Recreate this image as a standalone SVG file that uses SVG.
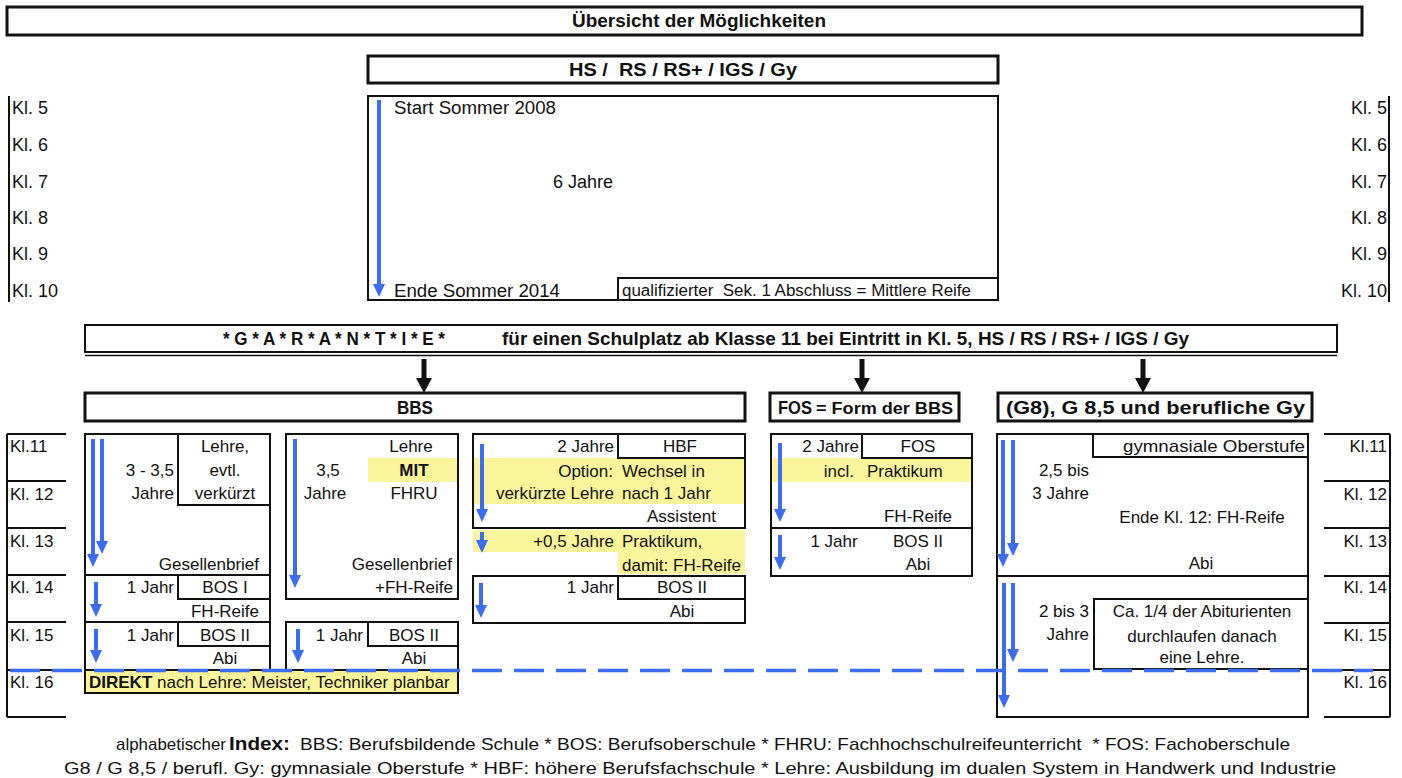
<svg xmlns="http://www.w3.org/2000/svg" width="1402" height="778" viewBox="0 0 1402 778">
<style>
.t{font-family:"Liberation Sans",Arial,sans-serif;font-size:17px;fill:#111}
.t18{font-size:18px}
.h{font-size:19px;font-weight:bold}
.b{font-weight:bold}
.e{text-anchor:end}
.m{text-anchor:middle}
.box{fill:none;stroke:#111;stroke-width:2}
.hbox{fill:#fff;stroke:#111;stroke-width:3}
.y{fill:#faf49a;stroke:none}
.kl{stroke:#111;stroke-width:2;fill:none}
.ba{stroke:#3a6cf4;stroke-width:4;fill:none;marker-end:url(#bh)}
.ka{stroke:#111;stroke-width:5;fill:none;marker-end:url(#kh)}
.dash{stroke:#3a6cf4;stroke-width:3.5;stroke-dasharray:30 12;fill:none}
</style>
<defs>
<marker id="bh" markerUnits="userSpaceOnUse" markerWidth="14" markerHeight="14" refX="0" refY="7" orient="auto" viewBox="0 0 14 14"><path d="M0,1 L13,7 L0,13 z" fill="#3a6cf4"/></marker>
<marker id="kh" markerUnits="userSpaceOnUse" markerWidth="16" markerHeight="18" refX="0" refY="9" orient="auto" viewBox="0 0 16 18"><path d="M0,1 L15,9 L0,17 z" fill="#111"/></marker>
</defs>
<rect width="1402" height="778" fill="#fff"/>

<g id="title">
<rect class="hbox" x="7" y="7" width="1355" height="28"/>
<text class="t h" x="572" y="27" textLength="254" lengthAdjust="spacingAndGlyphs">Übersicht der Möglichkeiten</text>
</g>

<g id="hs-header">
<rect class="hbox" x="368" y="56" width="630" height="27"/>
<text class="t h" x="569" y="76" xml:space="preserve" textLength="228" lengthAdjust="spacingAndGlyphs">HS /  RS / RS+ / IGS / Gy</text>
</g>

<g id="sek1">
<rect class="box" x="368" y="96" width="630" height="204"/>
<text class="t t18" x="394" y="114" textLength="162" lengthAdjust="spacingAndGlyphs">Start Sommer 2008</text>
<text class="t t18 m" x="583" y="188">6 Jahre</text>
<text class="t t18" x="394" y="297" textLength="166" lengthAdjust="spacingAndGlyphs">Ende Sommer 2014</text>
<rect class="box" x="618" y="278" width="380" height="22"/>
<text class="t" x="622" y="296" style="font-size:16px" xml:space="preserve" textLength="349" lengthAdjust="spacingAndGlyphs">qualifizierter  Sek. 1 Abschluss = Mittlere Reife</text>
</g>

<g id="kl-top-left">
<line class="kl" x1="9" y1="96" x2="9" y2="302"/>
<text class="t t18" x="12" y="114">Kl. 5</text>
<text class="t t18" x="12" y="151">Kl. 6</text>
<text class="t t18" x="12" y="188">Kl. 7</text>
<text class="t t18" x="12" y="224">Kl. 8</text>
<text class="t t18" x="12" y="260">Kl. 9</text>
<text class="t t18" x="12" y="297">Kl. 10</text>
</g>

<g id="kl-top-right">
<line class="kl" x1="1389" y1="96" x2="1389" y2="302"/>
<text class="t t18 e" x="1387" y="114">Kl. 5</text>
<text class="t t18 e" x="1387" y="151">Kl. 6</text>
<text class="t t18 e" x="1387" y="188">Kl. 7</text>
<text class="t t18 e" x="1387" y="224">Kl. 8</text>
<text class="t t18 e" x="1387" y="260">Kl. 9</text>
<text class="t t18 e" x="1387" y="297">Kl. 10</text>
</g>

<g id="garantie">
<rect x="85" y="325" width="1252" height="27" fill="#fff" stroke="#111" stroke-width="2"/>
<line x1="85" y1="355.5" x2="1337" y2="355.5" stroke="#111" stroke-width="1.5"/>
<text class="t h" x="223" y="345" textLength="222" lengthAdjust="spacingAndGlyphs">* G * A * R * A * N * T * I * E *</text>
<text class="t h" x="502" y="345" textLength="687" lengthAdjust="spacingAndGlyphs">für einen Schulplatz ab Klasse 11 bei Eintritt in Kl. 5, HS / RS / RS+ / IGS / Gy</text>
</g>

<g id="bbs-header">
<rect class="hbox" x="85" y="393" width="660" height="28"/>
<text class="t h" x="397" y="414" textLength="36" lengthAdjust="spacingAndGlyphs">BBS</text>
</g>

<g id="fos-header">
<rect class="hbox" x="770" y="393" width="189" height="28"/>
<text class="t h" x="778" y="414" textLength="34" lengthAdjust="spacingAndGlyphs">FOS</text>
<text class="t b" x="816" y="414" style="font-size:16px" textLength="137" lengthAdjust="spacingAndGlyphs">= Form der BBS</text>
</g>

<g id="gy-header">
<rect class="hbox" x="998" y="393" width="314" height="28"/>
<text class="t h" x="1006" y="414" textLength="299" lengthAdjust="spacingAndGlyphs">(G8), G 8,5 und berufliche Gy</text>
</g>

<g id="kl-bottom-left">
<path class="kl" d="M7,434 V717 M7,434 H66 M7,481 H66 M7,528 H66 M7,575 H66 M7,622 H66 M7,670 H66 M7,717 H66"/>
<text class="t" x="10" y="452">Kl.11</text>
<text class="t" x="10" y="500">Kl. 12</text>
<text class="t" x="10" y="547">Kl. 13</text>
<text class="t" x="10" y="593">Kl. 14</text>
<text class="t" x="10" y="641">Kl. 15</text>
<text class="t" x="10" y="688">Kl. 16</text>
</g>

<g id="kl-bottom-right">
<path class="kl" d="M1390,434 V717 M1324,434 H1390 M1324,481 H1390 M1324,528 H1390 M1324,576 H1390 M1324,623 H1390 M1324,670 H1390 M1324,717 H1390"/>
<text class="t e" x="1387" y="452">Kl.11</text>
<text class="t e" x="1387" y="500">Kl. 12</text>
<text class="t e" x="1387" y="547">Kl. 13</text>
<text class="t e" x="1387" y="593">Kl. 14</text>
<text class="t e" x="1387" y="641">Kl. 15</text>
<text class="t e" x="1387" y="688">Kl. 16</text>
</g>

<g id="lehre">
<rect class="box" x="85" y="434" width="185" height="141"/>
<rect class="box" x="178" y="434" width="92" height="71"/>
<text class="t m" x="225" y="452">Lehre,</text>
<text class="t m" x="225" y="476">evtl.</text>
<text class="t m" x="225" y="499">verkürzt</text>
<text class="t e" x="174" y="476">3 - 3,5</text>
<text class="t e" x="174" y="499">Jahre</text>
<text class="t e" x="259" y="570">Gesellenbrief</text>
</g>

<g id="bos1">
<rect class="box" x="85" y="575" width="185" height="47"/>
<rect class="box" x="178" y="575" width="92" height="24"/>
<text class="t e" x="174" y="593">1 Jahr</text>
<text class="t m" x="225" y="593">BOS I</text>
<text class="t m" x="225" y="617">FH-Reife</text>
</g>

<g id="bos2-a">
<rect class="box" x="85" y="622" width="185" height="48"/>
<rect class="box" x="178" y="622" width="92" height="24"/>
<text class="t e" x="174" y="641">1 Jahr</text>
<text class="t m" x="225" y="641">BOS II</text>
<text class="t m" x="225" y="664">Abi</text>
</g>

<g id="direkt">
<rect x="85" y="670" width="373" height="23" fill="#faf49a" stroke="#111" stroke-width="2"/>
<text class="t" x="89" y="688"><tspan class="b">DIREKT</tspan> nach Lehre: Meister, Techniker planbar</text>
</g>

<g id="lehre-fhru">
<rect class="y" x="368" y="458" width="89" height="24"/>
<rect class="box" x="286" y="434" width="172" height="165"/>
<text class="t m" x="411" y="452">Lehre</text>
<text class="t b m" x="414" y="476">MIT</text>
<text class="t m" x="414" y="499">FHRU</text>
<text class="t m" x="328" y="476">3,5</text>
<text class="t m" x="325" y="499">Jahre</text>
<text class="t e" x="452" y="570">Gesellenbrief</text>
<text class="t e" x="453" y="593">+FH-Reife</text>
</g>

<g id="bos2-b">
<rect class="box" x="286" y="622" width="172" height="48"/>
<rect class="box" x="368" y="622" width="90" height="24"/>
<text class="t e" x="363" y="641">1 Jahr</text>
<text class="t m" x="414" y="641">BOS II</text>
<text class="t m" x="414" y="664">Abi</text>
</g>

<g id="hbf">
<rect class="y" x="473" y="458" width="272" height="46"/>
<rect class="box" x="473" y="434" width="272" height="94"/>
<rect class="box" x="618" y="434" width="127" height="24"/>
<text class="t e" x="614" y="452">2 Jahre</text>
<text class="t m" x="680" y="452">HBF</text>
<text class="t e" x="613" y="477">Option:</text>
<text class="t" x="622" y="477">Wechsel in</text>
<text class="t e" x="614" y="499">verkürzte Lehre</text>
<text class="t" x="622" y="499">nach 1 Jahr</text>
<text class="t e" x="716" y="522">Assistent</text>
</g>

<g id="praktikum">
<path class="y" d="M473,530 H745 V574 H618 V552 H473 z"/>
<text class="t e" x="614" y="547">+0,5 Jahre</text>
<text class="t" x="622" y="547">Praktikum,</text>
<text class="t" x="622" y="571">damit: FH-Reife</text>
</g>

<g id="bos2-c">
<rect class="box" x="473" y="576" width="272" height="47"/>
<rect class="box" x="618" y="576" width="127" height="23"/>
<text class="t e" x="614" y="593">1 Jahr</text>
<text class="t m" x="682" y="593">BOS II</text>
<text class="t m" x="682" y="617">Abi</text>
</g>

<g id="fos">
<rect class="y" x="771" y="458" width="201" height="24"/>
<rect class="box" x="771" y="434" width="201" height="94"/>
<rect class="box" x="862" y="434" width="110" height="24"/>
<text class="t e" x="859" y="452">2 Jahre</text>
<text class="t m" x="918" y="452">FOS</text>
<text class="t e" x="854" y="477">incl.</text>
<text class="t" x="867" y="477">Praktikum</text>
<text class="t m" x="918" y="522">FH-Reife</text>
</g>

<g id="fos-bos2">
<rect class="box" x="771" y="528" width="201" height="48"/>
<text class="t m" x="834" y="547">1 Jahr</text>
<text class="t m" x="918" y="547">BOS II</text>
<text class="t m" x="918" y="570">Abi</text>
</g>

<g id="gy-oberstufe">
<rect class="box" x="997" y="434" width="311" height="142"/>
<rect class="box" x="1093" y="434" width="215" height="23"/>
<text class="t" x="1123" y="452" textLength="182" lengthAdjust="spacingAndGlyphs">gymnasiale Oberstufe</text>
<text class="t e" x="1089" y="476">2,5 bis</text>
<text class="t e" x="1089" y="499">3 Jahre</text>
<text class="t m" x="1202" y="523">Ende Kl. 12: FH-Reife</text>
<text class="t m" x="1201" y="569">Abi</text>
</g>

<g id="gy-lehre">
<rect class="box" x="997" y="576" width="311" height="141"/>
<rect class="box" x="1094" y="599" width="214" height="70"/>
<text class="t e" x="1089" y="617">2 bis 3</text>
<text class="t e" x="1089" y="640">Jahre</text>
<text class="t m" x="1202" y="617">Ca. 1/4 der Abiturienten</text>
<text class="t m" x="1202" y="642">durchlaufen danach</text>
<text class="t m" x="1202" y="663">eine Lehre.</text>
</g>

<g id="connectors">
<line class="ka" x1="424" y1="359" x2="424" y2="378"/>
<line class="ka" x1="862" y1="359" x2="862" y2="378"/>
<line class="ka" x1="1143" y1="359" x2="1143" y2="378"/>
<line class="ba" x1="379" y1="100" x2="379" y2="284"/>
<line class="ba" x1="93" y1="439" x2="93" y2="554"/>
<line class="ba" x1="102" y1="439" x2="102" y2="541"/>
<line class="ba" x1="96" y1="582" x2="96" y2="604"/>
<line class="ba" x1="96" y1="629" x2="96" y2="650"/>
<line class="ba" x1="295" y1="439" x2="295" y2="575"/>
<line class="ba" x1="298" y1="629" x2="298" y2="650"/>
<line class="ba" x1="482" y1="444" x2="482" y2="509"/>
<line class="ba" x1="482" y1="532" x2="482" y2="540"/>
<line class="ba" x1="481" y1="583" x2="481" y2="605"/>
<line class="ba" x1="780" y1="443" x2="780" y2="509"/>
<line class="ba" x1="780" y1="535" x2="780" y2="557"/>
<line class="ba" x1="1003" y1="440" x2="1003" y2="554"/>
<line class="ba" x1="1013" y1="440" x2="1013" y2="543"/>
<line class="ba" x1="1004" y1="583" x2="1004" y2="695"/>
<line class="ba" x1="1013" y1="583" x2="1013" y2="649"/>
<line class="dash" x1="10" y1="670.5" x2="1373" y2="670.5"/>
</g>

<g id="index">
<text class="t" x="116" y="750" textLength="110" lengthAdjust="spacingAndGlyphs">alphabetischer</text>
<text class="t b" x="229" y="750" style="font-size:19px" textLength="61" lengthAdjust="spacingAndGlyphs">Index:</text>
<text class="t" x="300" y="750" xml:space="preserve" textLength="990" lengthAdjust="spacingAndGlyphs">BBS: Berufsbildende Schule * BOS: Berufsoberschule * FHRU: Fachhochschulreifeunterricht  * FOS: Fachoberschule</text>
<text class="t" x="64" y="774" textLength="1272" lengthAdjust="spacingAndGlyphs">G8 / G 8,5 / berufl. Gy: gymnasiale Oberstufe * HBF: höhere Berufsfachschule * Lehre: Ausbildung im dualen System in Handwerk und Industrie</text>
</g>
</svg>
